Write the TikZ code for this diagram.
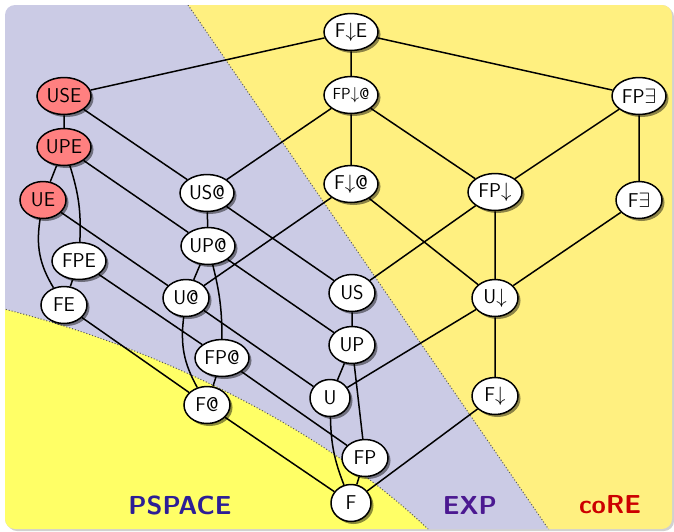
\documentclass[tikz,border=0pt]{standalone}
\usetikzlibrary{shapes.geometric,shadows}

\definecolor{lavender}{RGB}{203,203,229}
\definecolor{paleyellow}{RGB}{255,240,128}
\definecolor{brightyellow}{RGB}{255,255,102}
\definecolor{hardred}{RGB}{255,128,128}
\definecolor{pspacecol}{RGB}{45,30,150}
\definecolor{expcol}{RGB}{75,25,145}
\definecolor{corecol}{RGB}{204,0,0}

\pgfdeclarelayer{bg}
\pgfdeclarelayer{edges}
\pgfsetlayers{bg,edges,main}

\tikzset{
  cls/.style={ellipse, draw, line width=1.5pt, fill=white,
    inner xsep=-6pt, inner ysep=0pt, minimum height=37pt,
    font=\sffamily\fontsize{20}{24}\selectfont,
    drop shadow={shadow xshift=2.5pt, shadow yshift=-2.5pt, opacity=0.45, fill=black}},
  w1/.style={cls, minimum width=40pt},
  w2/.style={cls, minimum width=46pt},
  w3/.style={cls, minimum width=54pt},
  hard/.style={fill=hardred},
  link/.style={line width=1.5pt},
  border/.style={dotted, line width=1pt, black!65},
  region/.style={font=\sffamily\bfseries\fontsize{26}{30}\selectfont},
}

\begin{document}
\begin{tikzpicture}[x=1pt, y=-1pt]
\useasboundingbox (0,0) rectangle (674,531);

% complexity regions
\begin{pgfonlayer}{bg}
  \fill[black!18, rounded corners=10pt] (7,7) rectangle (674,531);
  \begin{scope}
    \clip[rounded corners=10pt] (5,5) rectangle (672,529);
    \fill[lavender] (0,0) rectangle (674,531);
    \fill[paleyellow] (184.6,0) -- (556,540) -- (680,540) -- (680,0) -- cycle;
    \fill[brightyellow] (0,308) .. controls (150,345) and (320,425) .. (430,531) -- (430,540) -- (0,540) -- cycle;
    \draw[border] (184.6,0) -- (556,540);
    \draw[border] (0,308) .. controls (150,345) and (320,425) .. (430,531);
  \end{scope}
\end{pgfonlayer}

% region names
\node[region, text=pspacecol] (pspace) at (180,505) {PSPACE};
\node[region, text=expcol] (exp) at (470,505) {EXP};
\node[region, text=corecol] (core) at (610,505) {coRE};

% logics
\node[w3] (FdE)   at (351,32)  {F$\downarrow$E};
\node[w3, font=\sffamily\fontsize{16}{18}\selectfont] (FPdAt) at (351,95) {FP$\downarrow$@};
\node[w3] (FPex)  at (639,96)  {FP$\exists$};
\node[w3, hard] (USE) at (64,96)  {USE};
\node[w3, hard] (UPE) at (64,147) {UPE};
\node[w2, hard] (UE)  at (43,200) {UE};
\node[w3] (USAt)  at (207,193) {US@};
\node[w3] (FdAt)  at (351,184) {F$\downarrow$@};
\node[w3] (FPd)   at (495,192) {FP$\downarrow$};
\node[w2] (Fex)   at (639,200) {F$\exists$};
\node[w3] (UPAt)  at (208,246) {UP@};
\node[w3] (FPE)   at (79,261)  {FPE};
\node[w2] (FE)    at (64,305)  {FE};
\node[w2] (UAt)   at (186,298) {U@};
\node[w2] (US)    at (352,293) {US};
\node[w2] (Ud)    at (495,298) {U$\downarrow$};
\node[w2] (UP)    at (352,345) {UP};
\node[w3] (FPAt)  at (222,358) {FP@};
\node[w2] (FAt)   at (207,405) {F@};
\node[w1] (U)     at (330,398) {U};
\node[w2] (Fd)    at (495,396) {F$\downarrow$};
\node[w2] (FP)    at (365,458) {FP};
\node[w1] (F)     at (351,503) {F};

% inclusions
\begin{pgfonlayer}{edges}
  \draw[link]
    (FdE) -- (FPdAt)  (FdE) -- (USE)  (FdE) -- (FPex)
    (FPdAt) -- (USAt) (FPdAt) -- (FdAt) (FPdAt) -- (FPd)
    (FPex) -- (FPd)   (FPex) -- (Fex)
    (USE) -- (UPE)    (USE) -- (USAt)
    (UPE) -- (UE)     (UPE) to[bend left=10] (FPE)  (UPE) -- (UPAt)
    (UE) to[bend right=20] (FE)  (UE) -- (UAt)
    (USAt) -- (UPAt)  (USAt) -- (US)
    (FdAt) -- (UAt)   (FdAt) -- (Ud)
    (FPd) -- (US)     (FPd) -- (Ud)
    (Fex) -- (Ud)
    (UPAt) -- (UAt)   (UPAt) to[bend left=7] (FPAt)  (UPAt) -- (UP)
    (FPE) -- (FE)     (FPE) -- (FPAt)
    (FE) -- (FAt)
    (UAt) to[bend right=18] (FAt)  (UAt) -- (U)
    (US) -- (UP)
    (Ud) -- (U)       (Ud) -- (Fd)
    (UP) -- (U)       (UP) -- (FP)
    (FPAt) -- (FAt)   (FPAt) -- (FP)
    (FAt) -- (F)
    (U) to[bend right=10] (F)
    (Fd) -- (F)
    (FP) -- (F);
\end{pgfonlayer}
\end{tikzpicture}
\end{document}
